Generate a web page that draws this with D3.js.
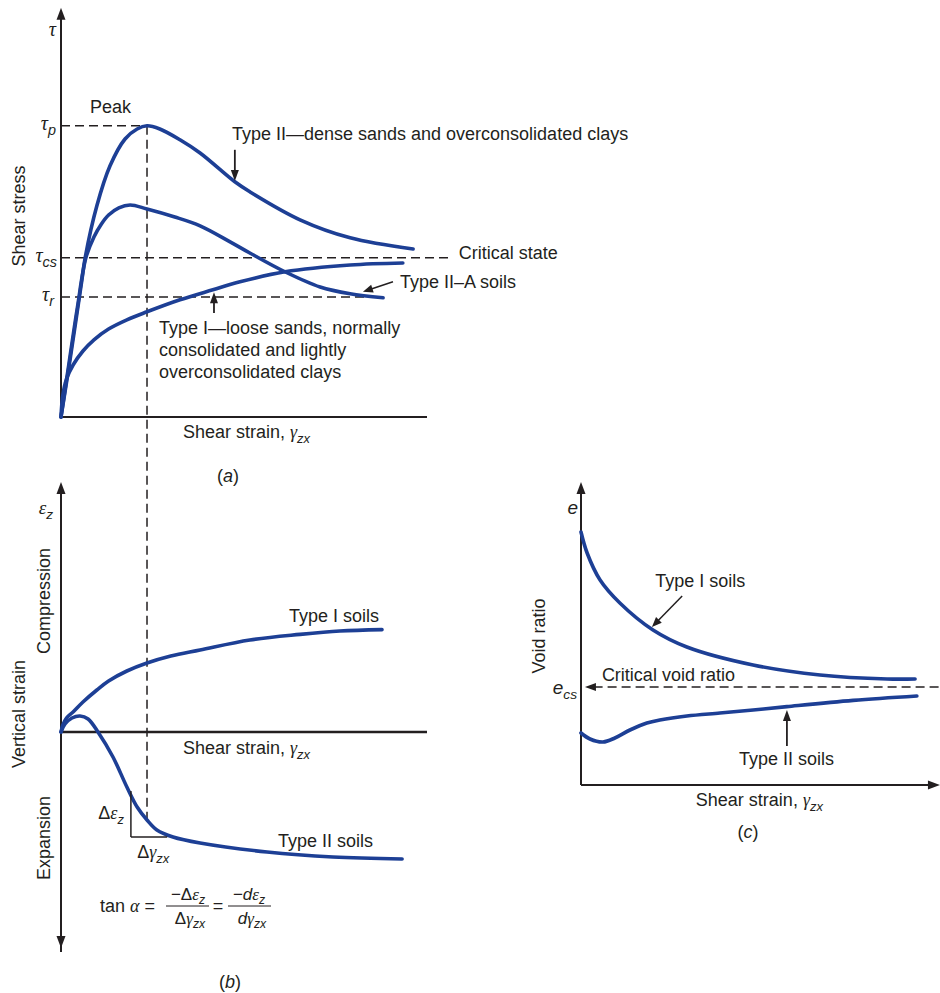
<!DOCTYPE html>
<html><head><meta charset="utf-8">
<script src="https://cdn.jsdelivr.net/npm/d3@7"></script>
<style>
body{margin:0;background:#fff}
svg{display:block}
text{font-family:"Liberation Sans",Arial,sans-serif;fill:#231f20}
</style>
</head><body>
<svg id="chart" width="940" height="993"></svg>
<script>
// ---------- DATA (arbitrary units) ----------
// Panel (a): shear strain vs shear stress
const stressTypeII  = [[0,0],[0.25,1.45],[0.57,3.42],[0.66,3.98],[0.98,5.28],[1.34,6.28],[1.75,6.95],[2.08,7.2],[2.35,7.28],[2.7,7.2],[3.25,6.93],[3.8,6.6],[4.75,5.88],[5.16,5.63],[6.53,4.93],[7.9,4.48],[9.62,4.2]];
const stressTypeIIA = [[0,0],[0.22,1.35],[0.45,2.75],[0.68,3.98],[0.9,4.5],[1.1,4.82],[1.3,5.05],[1.58,5.23],[1.89,5.3],[2.35,5.2],[3.11,5.0],[3.8,4.78],[4.62,4.38],[5.16,4.1],[6.12,3.63],[7.08,3.25],[7.9,3.08],[8.8,2.98]];
const stressTypeI   = [[0,0],[0.05,0.55],[0.15,0.95],[0.33,1.3],[0.6,1.65],[0.9,1.93],[1.3,2.2],[1.8,2.43],[2.35,2.63],[3.25,2.93],[4.15,3.18],[4.89,3.38],[6.12,3.63],[7.9,3.8],[9.34,3.85]];
const tauPeak = 7.28, tauCS = 3.98, tauR = 3.0, gammaPeak = 2.35;

// Panel (b): shear strain vs vertical strain
const vstrainTypeI  = [[0,0],[0.05,0.35],[0.15,0.7],[0.33,1.0],[0.6,1.5],[0.98,2.1],[1.3,2.55],[1.8,3.05],[2.35,3.45],[3.0,3.8],[3.8,4.1],[5.16,4.6],[6.53,4.88],[7.62,5.05],[8.77,5.12]];
const vstrainTypeII = [[0,0],[0.11,0.4],[0.3,0.7],[0.52,0.8],[0.74,0.65],[1.01,0],[1.42,-1.25],[1.8,-2.75],[2.08,-3.75],[2.35,-4.4],[2.62,-4.9],[3.06,-5.25],[3.8,-5.55],[5.63,-6.0],[7.43,-6.25],[9.32,-6.35]];
const slopeTriangle = {g0:1.91, g1:2.9, e0:-2.95, e1:-5.25};

// Panel (c): shear strain vs void ratio
const voidTypeI  = [[0,1.265],[0.17,1.16],[0.53,1.025],[1.08,0.91],[2.0,0.775],[2.94,0.69],[4.78,0.6],[6.64,0.55],[8.5,0.53],[9.28,0.53]];
const voidTypeII = [[0,0.26],[0.25,0.23],[0.61,0.215],[0.94,0.235],[1.36,0.275],[1.83,0.31],[2.19,0.325],[2.94,0.345],[3.86,0.36],[4.78,0.375],[5.72,0.392],[7.56,0.423],[9.33,0.445]];
const eCS = 0.49;

// ---------- STYLE ----------
const BLUE = "#1d3f95", INK = "#231f20";
const SERIF = "'Liberation Serif','DejaVu Serif',serif";
const svg = d3.select("#chart");

// ---------- SCALES ----------
const xA = d3.scaleLinear().domain([0,10]).range([61,427]);
const yA = d3.scaleLinear().domain([0,10]).range([417,17]);
const xB = xA;
const yB = d3.scaleLinear().domain([-10,10]).range([932,532]);
const xC = d3.scaleLinear().domain([0,10]).range([581,941]);
const yC = d3.scaleLinear().domain([0,1]).range([785,585]);

// ---------- HELPERS ----------
function head(g, x1,y1,x2,y2,len,hw){
  const a = Math.atan2(y2-y1,x2-x1);
  const bx = x2-len*Math.cos(a), by = y2-len*Math.sin(a);
  const px = -Math.sin(a)*hw, py = Math.cos(a)*hw;
  g.append("path").attr("d",`M${x2},${y2}L${bx+px},${by+py}L${bx-px},${by-py}Z`).attr("fill",INK);
}
function arrow(g,x1,y1,x2,y2,len=11,hw=4,w=1.8){
  const a = Math.atan2(y2-y1,x2-x1);
  g.append("line").attr("x1",x1).attr("y1",y1).attr("x2",x2-(len-2)*Math.cos(a)).attr("y2",y2-(len-2)*Math.sin(a))
    .attr("stroke",INK).attr("stroke-width",w);
  head(g,x1,y1,x2,y2,len,hw);
}
function line(g,x1,y1,x2,y2,w=2,dash=null){
  const l = g.append("line").attr("x1",x1).attr("y1",y1).attr("x2",x2).attr("y2",y2).attr("stroke",INK).attr("stroke-width",w);
  if(dash) l.attr("stroke-dasharray",dash);
  return l;
}
function rich(g,x,y,parts,anchor="start",size=18){
  const t = g.append("text").attr("x",x).attr("y",y).attr("text-anchor",anchor).style("font-size",size+"px");
  let shift = 0;
  parts.forEach(p=>{
    const s = t.append("tspan").text(p.t);
    const want = p.sub ? Math.round(size*0.25) : 0;
    if(want!==shift){ s.attr("dy", want-shift); shift = want; }
    if(p.sub) s.style("font-size",(size*0.72)+"px").style("font-style","italic");
    if(p.it) s.style("font-style","italic");
    if(p.serif) s.style("font-family",SERIF);
  });
  return t;
}
function vlabel(g,x,y,txt){
  g.append("text").attr("transform",`translate(${x},${y}) rotate(-90)`).attr("text-anchor","middle")
   .style("font-size","18px").text(txt);
}
function curve(g,data,xs,ys){
  g.append("path").datum(data)
   .attr("d", d3.line().x(d=>xs(d[0])).y(d=>ys(d[1])).curve(d3.curveCatmullRom.alpha(0.5)))
   .attr("fill","none").attr("stroke",BLUE).attr("stroke-width",3.6).attr("stroke-linecap","round");
}
const strainLabel = [{t:"Shear strain, "},{t:"γ",serif:true,it:true},{t:"zx",sub:true}];

// ================= PANEL A =================
const gA = svg.append("g");
line(gA, xA(0), yA(tauPeak), xA(gammaPeak), yA(tauPeak), 1.5, "9,5");
line(gA, xA(gammaPeak), yA(tauPeak), xA(gammaPeak), yB(-4.4), 1.5, "9,5");
line(gA, xA(0), yA(tauCS), xA(10.6), yA(tauCS), 1.5, "9,5");
line(gA, xA(0), yA(tauR), xA(8.8), yA(tauR), 1.5, "9,5");
line(gA, xA(0), yA(0), xA(10), yA(0), 2);
line(gA, xA(0), yA(0), xA(0), yA(10)-4, 2);
head(gA, xA(0), yA(5), xA(0), yA(10.23), 12, 4.5);
curve(gA, stressTypeII, xA, yA);
curve(gA, stressTypeIIA, xA, yA);
curve(gA, stressTypeI, xA, yA);
rich(gA, 56, yA(10)+19, [{t:"τ",serif:true,it:true}], "end", 20);
rich(gA, 56, yA(tauPeak)+4, [{t:"τ",serif:true,it:true},{t:"p",sub:true}], "end", 20);
rich(gA, 57, yA(tauCS)+4, [{t:"τ",serif:true,it:true},{t:"cs",sub:true}], "end", 20);
rich(gA, 54, yA(tauR)+4, [{t:"τ",serif:true,it:true},{t:"r",sub:true}], "end", 20);
vlabel(gA, 25, 216, "Shear stress");
gA.append("text").attr("x",xA(0.79)).attr("y",yA(7.6)).style("font-size","18px").text("Peak");
gA.append("text").attr("x",xA(4.67)).attr("y",yA(6.93)).style("font-size","18px").text("Type II—dense sands and overconsolidated clays");
arrow(gA, xA(4.75), yA(6.68), xA(4.75), yA(5.9));
gA.append("text").attr("x",xA(10.87)).attr("y",yA(3.95)).style("font-size","18px").text("Critical state");
gA.append("text").attr("x",xA(9.26)).attr("y",yA(3.23)).style("font-size","18px").text("Type II–A soils");
arrow(gA, xA(9.07), yA(3.38), xA(8.25), yA(3.13), 10, 4, 1.5);
arrow(gA, xA(4.18), yA(2.6), xA(4.18), yA(3.12));
["Type I—loose sands, normally","consolidated and lightly","overconsolidated clays"].forEach((s,i)=>{
  gA.append("text").attr("x",xA(2.68)).attr("y",yA(2.08)+i*22.2).style("font-size","18px").text(s);
});
rich(gA, xA(3.33), yA(-0.53), strainLabel);
rich(gA, xA(4.56), yA(-1.63), [{t:"("},{t:"a",it:true},{t:")"}], "middle");

// ================= PANEL B =================
const gB = svg.append("g");
line(gB, xB(0), yB(-10.8)+4, xB(0), yB(12.5)+4, 2);
head(gB, xB(0), yB(0), xB(0), yB(12.5), 12, 4.5);
head(gB, xB(0), yB(0), xB(0), yB(-10.8), 12, 4.5);
line(gB, xB(0), yB(0), xB(10), yB(0), 2.5);
curve(gB, vstrainTypeI, xB, yB);
curve(gB, vstrainTypeII, xB, yB);
line(gB, xB(slopeTriangle.g0), yB(slopeTriangle.e0), xB(slopeTriangle.g0), yB(slopeTriangle.e1), 1.5);
line(gB, xB(slopeTriangle.g0), yB(slopeTriangle.e1), xB(slopeTriangle.g1), yB(slopeTriangle.e1), 1.5);
rich(gB, 53, 514, [{t:"ε",serif:true,it:true},{t:"z",sub:true}], "end", 19);
vlabel(gB, 50, 601, "Compression");
vlabel(gB, 25, 714, "Vertical strain");
vlabel(gB, 50, 838, "Expansion");
gB.append("text").attr("x",xB(6.23)).attr("y",yB(5.5)).style("font-size","18px").text("Type I soils");
gB.append("text").attr("x",xB(5.93)).attr("y",yB(-5.75)).style("font-size","18px").text("Type II soils");
rich(gB, xB(3.33), yB(-1.1), strainLabel);
rich(gB, xB(1.72), yB(-4.35), [{t:"Δ"},{t:"ε",serif:true,it:true},{t:"z",sub:true}], "end", 18);
rich(gB, xB(2.08), yB(-6.3), [{t:"Δ"},{t:"γ",serif:true,it:true},{t:"zx",sub:true}], "start", 18);
rich(gB, 100, 912, [{t:"tan "},{t:"α",serif:true,it:true},{t:" ="}], "start", 18);
rich(gB, 188, 900, [{t:"−Δ"},{t:"ε",serif:true,it:true},{t:"z",sub:true}], "middle", 17);
line(gB, 166, 906, 209, 906, 1);
rich(gB, 190, 924, [{t:"Δ"},{t:"γ",serif:true,it:true},{t:"zx",sub:true}], "middle", 17);
gB.append("text").attr("x",218).attr("y",912).attr("text-anchor","middle").style("font-size","18px").text("=");
rich(gB, 249, 900, [{t:"−"},{t:"d",it:true},{t:"ε",serif:true,it:true},{t:"z",sub:true}], "middle", 17);
line(gB, 228, 906, 271, 906, 1);
rich(gB, 252, 924, [{t:"d",it:true},{t:"γ",serif:true,it:true},{t:"zx",sub:true}], "middle", 17);
rich(gB, 230, 988, [{t:"("},{t:"b",it:true},{t:")"}], "middle");

// ================= PANEL C =================
const gC = svg.append("g");
line(gC, xC(0), yC(0), xC(0), yC(1.515)+4, 2);
head(gC, xC(0), yC(0), xC(0), yC(1.515), 12, 4.5);
line(gC, xC(0), yC(0), xC(9.97)-4, yC(0), 2);
head(gC, xC(0), yC(0), xC(9.97), yC(0), 12, 4.5);
line(gC, xC(0.35), yC(eCS), xC(10), yC(eCS), 1.5, "9,5");
head(gC, xC(5), yC(eCS), xC(0.11), yC(eCS), 11, 4);
curve(gC, voidTypeI, xC, yC);
curve(gC, voidTypeII, xC, yC);
rich(gC, 578, 514, [{t:"e",it:true}], "end", 19);
rich(gC, 577, 694, [{t:"e",it:true},{t:"cs",sub:true}], "end", 19);
vlabel(gC, 545, 636, "Void ratio");
gC.append("text").attr("x",xC(0.58)).attr("y",yC(0.52)).style("font-size","18px").text("Critical void ratio");
gC.append("text").attr("x",xC(2.06)).attr("y",yC(0.99)).style("font-size","18px").text("Type I soils");
arrow(gC, xC(2.81), yC(0.945), xC(1.97), yC(0.79), 10, 4, 1.5);
gC.append("text").attr("x",xC(4.39)).attr("y",yC(0.1)).style("font-size","18px").text("Type II soils");
arrow(gC, xC(5.72), yC(0.195), xC(5.72), yC(0.375));
rich(gC, xC(3.19), yC(-0.105), strainLabel);
rich(gC, 748, 838, [{t:"("},{t:"c",it:true},{t:")"}], "middle");
</script>
</body></html>
